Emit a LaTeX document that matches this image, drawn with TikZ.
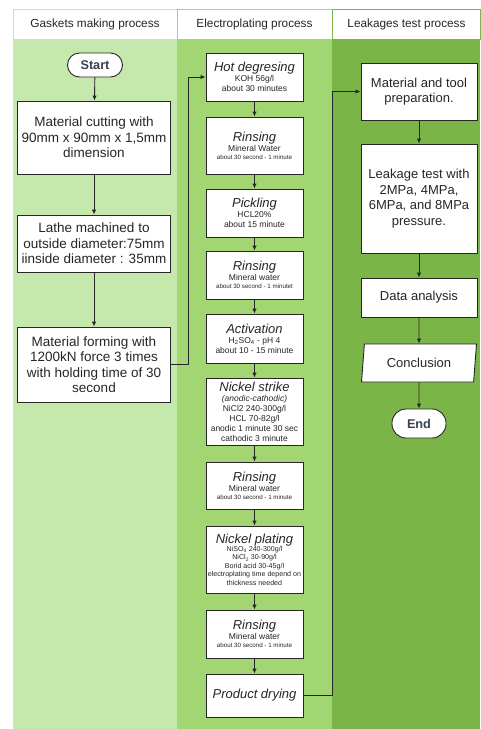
\documentclass[tikz,border=0pt]{standalone}
\usepackage{fontspec}
\setmainfont{Liberation Sans}
\usetikzlibrary{arrows.meta,shapes.geometric}
\definecolor{laneA}{RGB}{197,232,173}
\definecolor{laneB}{RGB}{162,214,114}
\definecolor{laneC}{RGB}{123,181,71}
\definecolor{ink}{RGB}{38,38,38}
\definecolor{termink}{RGB}{55,66,82}
\newcommand{\steptitle}[1]{{\fontsize{13}{15}\selectfont\itshape #1\par}}
\newcommand{\stepinfo}[1]{{\fontsize{8.5}{10}\selectfont #1\par}}
\newcommand{\stepnote}[1]{{\fontsize{6.2}{8}\selectfont #1\par}}
\newcommand{\stepsmall}[1]{{\fontsize{7.1}{8.4}\selectfont #1\par}}

\begin{document}
\begin{tikzpicture}[x=1pt, y=-1pt, every node/.style={font=\fontsize{13.5}{15.5}\selectfont, text=ink}, >={Latex[length=5pt,width=4.5pt]},
	box/.style={draw=ink, fill=white, line width=0.9pt, align=flush center, inner sep=2pt},
	lbox/.style={box, minimum width=153, text width=147},
	mbox/.style={box, minimum width=97, text width=95, inner sep=1pt},
	rbox/.style={box, minimum width=116, text width=110, font=\fontsize{13}{15.7}\selectfont},
	term/.style={draw=ink, fill=white, line width=0.9pt, rounded corners=12pt, text=termink, font=\fontsize{12.7}{15}\selectfont\bfseries},
	head/.style={fill=white, line width=1pt, font=\fontsize{11.8}{14}\selectfont, inner sep=0pt}]
	\useasboundingbox (0,0) rectangle (480,729);
	\fill[laneA] (13,39) rectangle (177,729);
	\fill[laneB] (177,39) rectangle (332,729);
	\fill[laneC] (332,39) rectangle (480,729);
	\node[head, draw=laneA, minimum width=164, minimum height=30] (hA) at (95,24) {Gaskets making process};
	\node[head, draw=laneB, minimum width=155, minimum height=30] (hB) at (254.5,24) {Electroplating process};
	\node[head, draw=laneC, minimum width=148, minimum height=30] (hC) at (406.5,24) {Leakages test process};

	\node[term, minimum width=55, minimum height=24] (start) at (95,65) {Start};
	\node[lbox, minimum height=73] (cut) at (94,137.5) {Material cutting with\\ 90mm x 90mm x 1,5mm\\ dimension};
	\node[lbox, minimum height=57] (lathe) at (94,243.5) {Lathe machined to\\ outside diameter:75mm\\ iinside diameter : 35mm};
	\node[lbox, minimum height=75] (form) at (94,364.5) {Material forming with\\ 1200kN force 3 times\\ with holding time of 30\\ second};
	\draw[->, ink, line width=0.9pt] (start) -- (cut);
	\draw[->, ink, line width=0.9pt] (cut) -- (lathe);
	\draw[->, ink, line width=0.9pt] (lathe) -- (form);

	\node[mbox, minimum height=48] (hot) at (254.5,77) {\steptitle{Hot degresing}\stepinfo{KOH 56g/l\\ about 30 minutes}};
	\node[mbox, minimum height=57] (rinA) at (254.5,145.5) {\steptitle{Rinsing}\stepinfo{Mineral Water}\stepnote{about 30 second - 1 minute}};
	\node[mbox, minimum height=48] (pick) at (254.5,213) {\steptitle{Pickling}\stepinfo{HCL20\%\\ about 15 minute}};
	\node[mbox, minimum height=48] (rinB) at (254.5,275) {\steptitle{Rinsing}\stepinfo{Mineral water}\stepnote{about 30 second - 1 minutet}};
	\node[mbox, minimum height=49] (act) at (254.5,338.5) {\steptitle{Activation}\stepinfo{H\textsubscript{2}SO\textsubscript{4} - pH 4\\ about 10 - 15 minute}};
	\node[mbox, minimum height=67] (strike) at (254.5,411.5) {\steptitle{Nickel strike}\stepinfo{\itshape (anodic-cathodic)}\stepinfo{NiCl2 240-300g/l\\ HCL 70-82g/l\\ anodic 1 minute 30 sec\\ cathodic 3 minute}};
	\node[mbox, minimum height=47] (rinC) at (254.5,485.5) {\steptitle{Rinsing}\stepinfo{Mineral water}\stepnote{about 30 second - 1 minute}};
	\node[mbox, minimum height=67] (plate) at (254.5,559.5) {\steptitle{Nickel plating}\stepsmall{NiSO\textsubscript{4} 240-300g/l\\ NiCl\textsubscript{2} 30-90g/l\\ Borid acid 30-45g/l\\ electroplating time depend on\\ thickness needed}};
	\node[mbox, minimum height=48] (rinD) at (254.5,634) {\steptitle{Rinsing}\stepinfo{Mineral water}\stepnote{about 30 second - 1 minute}};
	\node[mbox, minimum height=43] (dry) at (254.5,695.5) {\steptitle{Product drying}};
	\draw[->, ink, line width=0.9pt] (form.east) -- ++(17,0) |- (hot.west);
	\draw[->, ink, line width=0.9pt] (hot) -- (rinA);
	\draw[->, ink, line width=0.9pt] (rinA) -- (pick);
	\draw[->, ink, line width=0.9pt] (pick) -- (rinB);
	\draw[->, ink, line width=0.9pt] (rinB) -- (act);
	\draw[->, ink, line width=0.9pt] (act) -- (strike);
	\draw[->, ink, line width=0.9pt] (strike) -- (rinC);
	\draw[->, ink, line width=0.9pt] (rinC) -- (plate);
	\draw[->, ink, line width=0.9pt] (plate) -- (rinD);
	\draw[->, ink, line width=0.9pt] (rinD) -- (dry);

	\node[rbox, minimum height=57] (prep) at (419,91.5) {Material and tool\\ preparation.};
	\node[rbox, minimum height=109] (leak) at (419,198.5) {Leakage test with\\ 2MPa, 4MPa,\\ 6MPa, and 8MPa\\ pressure.};
	\node[rbox, minimum height=39] (data) at (419,297.5) {Data analysis};
	\node[box, trapezium, trapezium left angle=78, trapezium right angle=102, trapezium stretches body, minimum width=115, minimum height=38, font=\fontsize{13}{15}\selectfont] (concl) at (419,363) {Conclusion};
	\node[term, minimum width=54, minimum height=29, rounded corners=14pt] (end) at (419,423.5) {End};
	\draw[->, ink, line width=0.9pt] (dry.east) -- ++(29,0) |- (prep.west);
	\draw[->, ink, line width=0.9pt] (prep) -- (leak);
	\draw[->, ink, line width=0.9pt] (leak) -- (data);
	\draw[->, ink, line width=0.9pt] (data) -- (concl);
	\draw[->, ink, line width=0.9pt] (concl) -- (end);
\end{tikzpicture}
\end{document}
